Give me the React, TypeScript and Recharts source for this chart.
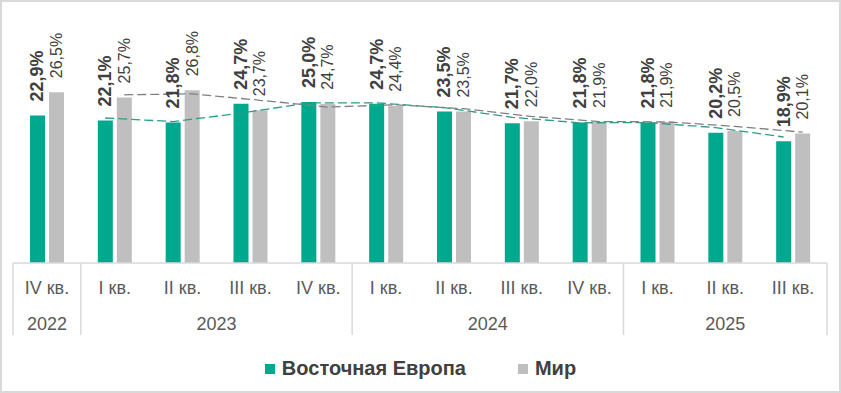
import React from 'react';
import { ComposedChart, Bar, Line, XAxis, YAxis, Legend, LabelList } from 'recharts';

// Кварталы и годы (двухуровневая ось)
const quarters = ['IV кв.', 'I кв.', 'II кв.', 'III кв.', 'IV кв.', 'I кв.', 'II кв.', 'III кв.', 'IV кв.', 'I кв.', 'II кв.', 'III кв.'];
const years = ['2022', '2023', '2023', '2023', '2023', '2024', '2024', '2024', '2024', '2025', '2025', '2025'];

const easternEurope = [22.9, 22.1, 21.8, 24.7, 25.0, 24.7, 23.5, 21.7, 21.8, 21.8, 20.2, 18.9];
const world = [26.5, 25.7, 26.8, 23.7, 24.7, 24.4, 23.5, 22.0, 21.9, 21.9, 20.5, 20.1];

// пунктирные линии тренда (скользящее среднее, как на картинке)
const easternEuropeTrend = [null, 22.5, 21.95, 23.25, 24.85, 24.85, 24.1, 22.6, 21.75, 21.8, 21.0, 19.55];
const worldTrend = [null, 26.1, 26.25, 25.25, 24.2, 24.55, 23.95, 22.75, 21.95, 21.9, 21.2, 20.3];

const seriesNames = { ee: 'Восточная Европа', world: 'Мир' };

const GREEN = '#00A88E';
const GRAY = '#BFBFBF';
const TEXT = '#404040';
const FONT = "'Liberation Sans', Arial, sans-serif";

const W = 837;
const H = 389;
const MARGIN = { top: 29, right: 12, bottom: 56, left: 11 };
const PLOT_W = W - MARGIN.left - MARGIN.right;
const BAR = 15;
const GAP = 4;
const SHIFT = (BAR + GAP) / 2;

const data = quarters.map((q, i) => ({
  id: `${q} ${years[i]}`,
  ee: easternEurope[i],
  world: world[i],
  eeTrend: easternEuropeTrend[i],
  worldTrend: worldTrend[i],
}));

const fmt = (v: number) => v.toFixed(1).replace('.', ',') + '%';

const makeLabel = (bold: boolean) => (props: any) => {
  const { x, y, width, value } = props;
  const cx = Number(x) + Number(width) / 2;
  const ty = Number(y) - 14;
  return (
    <text
      x={cx}
      y={ty}
      transform={`rotate(-90 ${cx} ${ty})`}
      textAnchor="start"
      dominantBaseline="central"
      fontSize={bold ? 18 : 16}
      fontWeight={bold ? 700 : 400}
      fill={TEXT}
      fontFamily={FONT}
    >
      {fmt(Number(value))}
    </text>
  );
};

function CategoryTick(props: any) {
  const { x, y, index } = props;
  const band = PLOT_W / quarters.length;
  const groupStart = index === 0 || years[index] !== years[index - 1];
  let groupLen = 1;
  while (index + groupLen < years.length && years[index + groupLen] === years[index]) groupLen++;
  const isLast = index === quarters.length - 1;
  const left = x - band / 2;
  return (
    <g>
      <text x={x} y={y + 25} textAnchor="middle" dominantBaseline="central" fontSize={18} fill="#595959" fontFamily={FONT}>
        {quarters[index]}
      </text>
      {groupStart && (
        <>
          <line x1={left} x2={left} y1={y} y2={y + 72} stroke="#D9D9D9" strokeWidth={1.5} />
          <text x={left + (groupLen * band) / 2} y={y + 61} textAnchor="middle" dominantBaseline="central" fontSize={18} fill="#595959" fontFamily={FONT}>
            {years[index]}
          </text>
        </>
      )}
      {isLast && <line x1={x + band / 2} x2={x + band / 2} y1={y} y2={y + 72} stroke="#D9D9D9" strokeWidth={1.5} />}
    </g>
  );
}

function LegendContent(props: any) {
  const items = (props.payload || []).filter((p: any) => p.type !== 'none');
  return (
    <div style={{ display: 'flex', justifyContent: 'center', alignItems: 'center', gap: 52 }}>
      {items.map((p: any) => (
        <div key={p.value} style={{ display: 'flex', alignItems: 'center', gap: 7 }}>
          <span style={{ width: 10, height: 10, background: p.color, display: 'inline-block' }} />
          <span style={{ fontFamily: FONT, fontWeight: 700, fontSize: 20, color: TEXT }}>{p.value}</span>
        </div>
      ))}
    </div>
  );
}

export default function App() {
  return (
    <div
      style={{
        position: 'absolute',
        left: 0,
        top: 0,
        width: 841,
        height: 393,
        boxSizing: 'border-box',
        border: '2px solid #D9D9D9',
        background: '#fff',
      }}
    >
      <ComposedChart width={W} height={H} data={data} margin={MARGIN} barGap={GAP}>
        <XAxis
          dataKey="id"
          height={72}
          interval={0}
          tickLine={false}
          tickSize={0}
          tickMargin={0}
          axisLine={{ stroke: '#D9D9D9', strokeWidth: 1.5 }}
          tick={<CategoryTick />}
        />
        <XAxis xAxisId="ee" dataKey="id" hide padding={{ left: -SHIFT, right: SHIFT }} />
        <XAxis xAxisId="world" dataKey="id" hide padding={{ left: SHIFT, right: -SHIFT }} />
        <YAxis hide domain={[0, 36]} />
        <Legend verticalAlign="middle" align="center" content={<LegendContent />} wrapperStyle={{ top: 355, left: 0, width: W }} />
        <Bar dataKey="ee" name={seriesNames.ee} fill={GREEN} barSize={BAR} isAnimationActive={false}>
          <LabelList dataKey="ee" content={makeLabel(true)} />
        </Bar>
        <Bar dataKey="world" name={seriesNames.world} fill={GRAY} barSize={BAR} isAnimationActive={false}>
          <LabelList dataKey="world" content={makeLabel(false)} />
        </Bar>
        <Line
          xAxisId="ee"
          dataKey="eeTrend"
          stroke="#2A9D86"
          strokeWidth={1.3}
          strokeDasharray="9 4"
          dot={false}
          activeDot={false}
          legendType="none"
          isAnimationActive={false}
        />
        <Line
          xAxisId="world"
          dataKey="worldTrend"
          stroke="#808080"
          strokeWidth={1.3}
          strokeDasharray="9 4"
          dot={false}
          activeDot={false}
          legendType="none"
          isAnimationActive={false}
        />
      </ComposedChart>
    </div>
  );
}
